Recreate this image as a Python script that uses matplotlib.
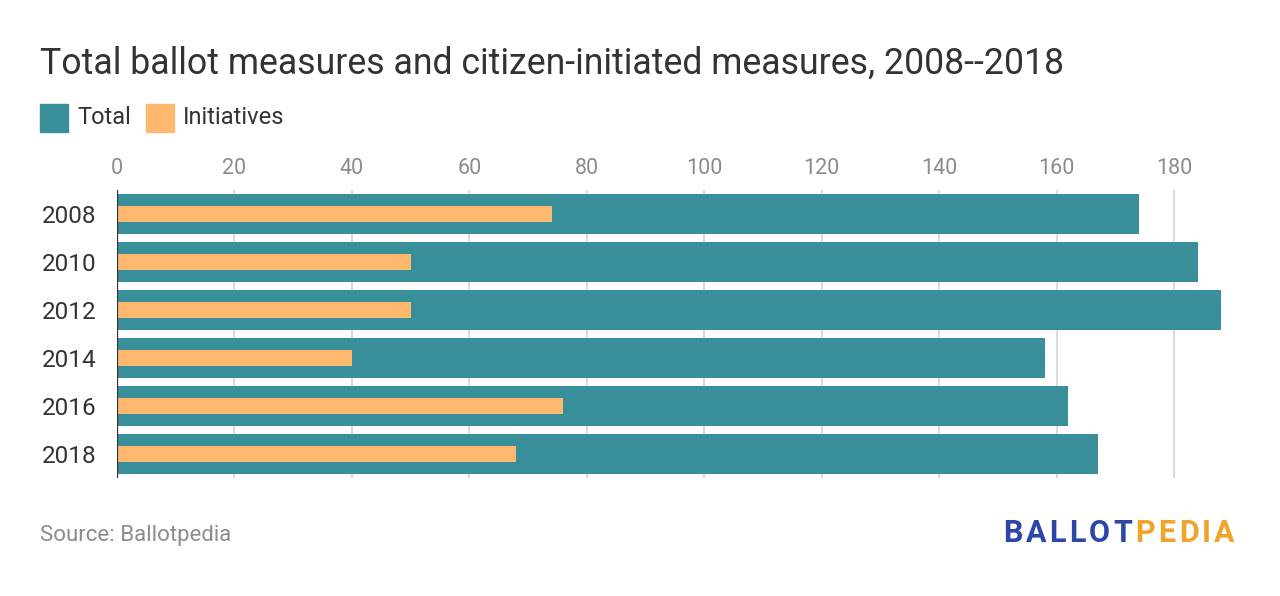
import matplotlib.pyplot as plt
from matplotlib.patches import Rectangle

plt.rcParams['font.family'] = ['Roboto', 'DejaVu Sans']

# data
years = ['2008', '2010', '2012', '2014', '2016', '2018']
total = [174, 184, 188, 158, 162, 167]
initiatives = [74, 50, 50, 40, 76, 68]

teal = '#388e99'
orange = '#ffb96e'

W, H = 1280, 596
fig = plt.figure(figsize=(W / 100, H / 100), dpi=100)

# axes placed in pixel terms
left, right, top, bottom = 117, 1221, 190, 478
ax = fig.add_axes([left / W, 1 - bottom / H, (right - left) / W, (bottom - top) / H])

pos = range(len(years))
ax.barh(pos, total, height=40 / 48, color=teal, zorder=2)
ax.barh(pos, initiatives, height=16 / 48, color=orange, zorder=3)

ax.set_xlim(0, 188)
ax.set_ylim(len(years) - 0.5, -0.5)
ax.set_yticks(list(pos))
ax.set_yticklabels(years, fontsize=17.5, color='#333333')
ax.set_xticks(range(0, 181, 20))
ax.xaxis.tick_top()
ax.tick_params(axis='x', length=0, pad=8, labelsize=15.5, labelcolor='#8c8c8c')
ax.tick_params(axis='y', length=0, pad=14.5)
ax.grid(axis='x', color='#dcdcdc', linewidth=1.5, zorder=0)
for s in ax.spines.values():
    s.set_visible(False)
ax.axvline(0, color='#333333', linewidth=1.6, zorder=4)

# title
fig.text(40 / W, 1 - 74 / H, 'Total ballot measures and citizen-initiated measures, 2008--2018',
         fontsize=25.7, color='#333333', va='baseline', ha='left')

# legend
for x0, tx, lab, c in [(40, 77, 'Total', teal), (146, 183, 'Initiatives', orange)]:
    fig.patches.append(Rectangle((x0 / W, 1 - 132 / H), 28 / W, 28 / H,
                                 transform=fig.transFigure, color=c))
    fig.text(tx / W, 1 - 118 / H, lab, fontsize=17, color='#333333', va='center', ha='left')

# source
fig.text(40 / W, 1 - 535 / H, 'Source: Ballotpedia', fontsize=16, color='#8c8c8c',
         va='center', ha='left')

# logo, letter by letter with tracking
fig.canvas.draw()
renderer = fig.canvas.get_renderer()
x = 1003
for ch, c in [(ch, '#2d47a8') for ch in 'BALLOT'] + [(ch, '#f2a42a') for ch in 'PEDIA']:
    t = fig.text(x / W, 1 - 542 / H, ch, fontsize=22, fontweight='bold', color=c,
                 va='baseline', ha='left')
    w = t.get_window_extent(renderer).width
    x += w + 3.3

fig.savefig('out.png', dpi=100)
